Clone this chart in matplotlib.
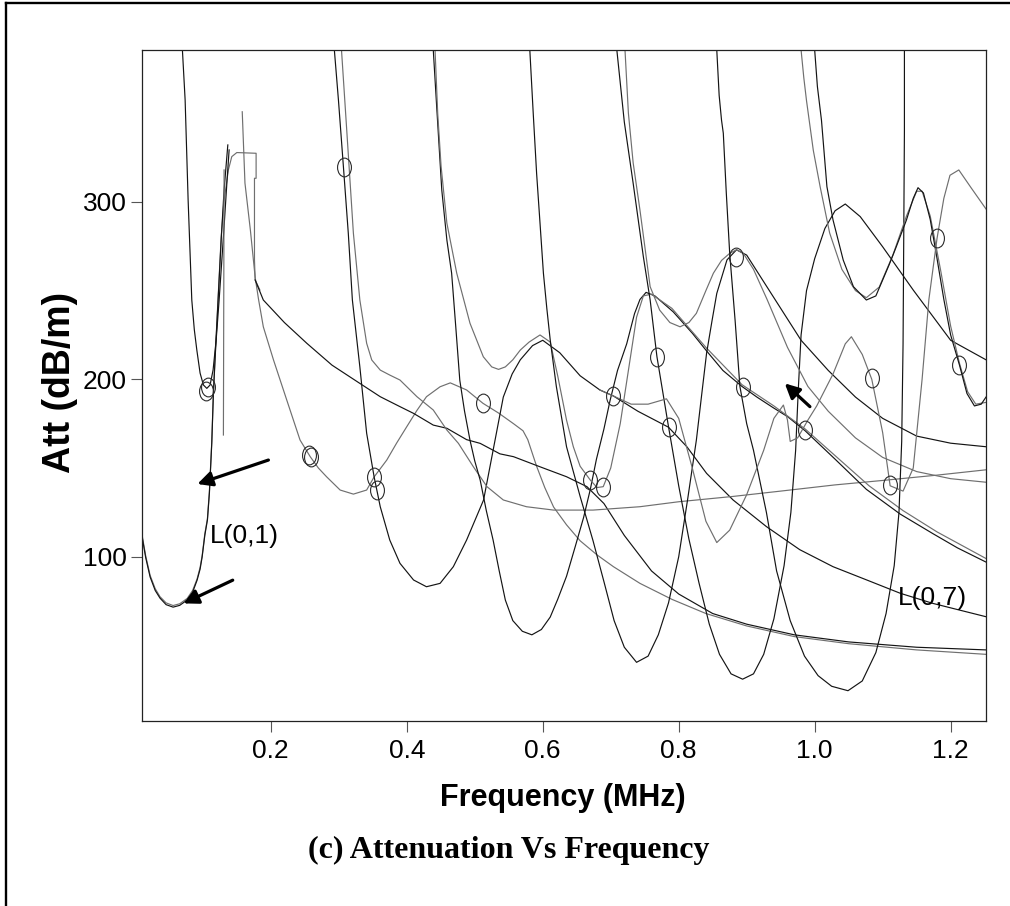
import matplotlib
matplotlib.use("Agg")
import matplotlib.pyplot as plt
from matplotlib.lines import Line2D
from matplotlib.path import Path
from matplotlib.transforms import Affine2D

plt.rcParams['font.family'] = ['Liberation Sans Narrow', 'Liberation Sans', 'DejaVu Sans']

# ---------------- data (frequency MHz, attenuation dB/m) ----------------
l01_k_f = [0.011, 0.016, 0.0225, 0.03, 0.037, 0.046, 0.0563, 0.066, 0.077, 0.085, 0.0916, 0.096, 0.099, 0.103, 0.1068, 0.1097, 0.1132, 0.1156, 0.118, 0.1225, 0.127, 0.1313, 0.1368]
l01_k_a = [110.6, 99.5, 88.6, 81.0, 76.7, 73.0, 71.6, 72.6, 75.6, 80.0, 86.8, 93.0, 99.8, 112.2, 120.7, 135.9, 164.1, 192.2, 210.9, 244.7, 278.5, 306.7, 332.1]

l01_g_f = [0.011, 0.016, 0.0225, 0.03, 0.037, 0.046, 0.0563, 0.066, 0.077, 0.085, 0.0916, 0.096, 0.099, 0.103, 0.1068, 0.1097, 0.1132, 0.1156, 0.118, 0.1225, 0.127, 0.131, 0.1376, 0.1426, 0.150, 0.1784, 0.1784, 0.176, 0.176, 0.177, 0.184]
l01_g_a = [111.5, 100.5, 89.5, 82.0, 77.5, 74.0, 72.5, 73.5, 76.5, 81.0, 87.5, 94.0, 100.5, 113.0, 121.5, 137.0, 165.0, 193.0, 212.0, 246.0, 280.0, 300.0, 318.0, 325.5, 327.8, 327.4, 313.3, 313.3, 267.3, 256.0, 250.3]

c07_f = [0.070, 0.074, 0.0784, 0.0838, 0.0875, 0.0912, 0.096, 0.1009, 0.1059, 0.1107, 0.1151, 0.1196, 0.124, 0.130, 0.1357, 0.1387]
c07_a = [385.6, 357.4, 301.1, 244.7, 228.0, 216.5, 203.5, 196.8, 194.9, 196.8, 205.2, 222.0, 244.7, 278.5, 312.4, 329.3]

vert_f = [0.1313, 0.1303]
vert_a = [318.0, 168.6]

spike_f = [0.158, 0.162, 0.170, 0.177, 0.182, 0.189, 0.204, 0.2235, 0.243, 0.258, 0.270, 0.282, 0.302, 0.3215, 0.341, 0.352, 0.3706, 0.385, 0.40, 0.415, 0.429, 0.449, 0.464, 0.488, 0.512, 0.535, 0.557, 0.571, 0.578, 0.591, 0.603, 0.616, 0.635, 0.655, 0.68, 0.704, 0.743, 0.79, 0.84, 0.90, 0.97, 1.05, 1.15, 1.252]
spike_a = [350.8, 310.6, 284.0, 257.5, 245.0, 229.6, 210.9, 188.3, 165.8, 156.4, 150.0, 145.1, 137.6, 135.3, 137.6, 145.0, 154.5, 164.0, 173.3, 182.5, 190.2, 195.8, 198.0, 194.0, 186.5, 181.0, 175.0, 171.0, 166.0, 151.0, 139.0, 128.0, 118.0, 109.0, 101.0, 94.4, 85.0, 76.0, 68.0, 61.0, 55.0, 51.0, 47.5, 45.0]

plat_f = [0.177, 0.189, 0.22, 0.253, 0.29, 0.331, 0.361, 0.39, 0.41, 0.439, 0.459, 0.488, 0.508, 0.537, 0.557, 0.596, 0.635, 0.665, 0.69, 0.72, 0.76, 0.80, 0.85, 0.90, 0.97, 1.05, 1.15, 1.252]
plat_a = [256.0, 244.7, 232.0, 220.3, 208.0, 197.7, 190.2, 184.6, 180.8, 174.2, 172.4, 166.0, 163.9, 158.0, 156.4, 150.7, 145.1, 139.5, 130.0, 112.0, 92.0, 79.0, 68.0, 62.0, 56.0, 52.0, 49.0, 47.5]

m294_f = [0.2935, 0.2995, 0.3068, 0.314, 0.32, 0.331, 0.341, 0.352, 0.361, 0.375, 0.39, 0.41, 0.429, 0.449, 0.4685, 0.488, 0.513, 0.528, 0.542, 0.555, 0.567, 0.585, 0.60, 0.625, 0.655, 0.684, 0.704, 0.74, 0.785, 0.812, 0.841, 0.88, 0.929, 0.978, 1.027, 1.076, 1.126, 1.174, 1.252]
m294_a = [385.6, 357.4, 319.9, 282.3, 244.7, 207.0, 169.6, 145.0, 128.2, 109.4, 96.3, 86.9, 83.1, 85.0, 94.4, 109.4, 132.0, 162.0, 190.0, 203.0, 211.0, 219.0, 222.0, 215.0, 202.0, 194.0, 190.6, 182.0, 173.0, 162.0, 147.0, 132.0, 117.0, 104.0, 94.4, 87.0, 79.4, 73.7, 66.2]

m304_f = [0.304, 0.312, 0.3215, 0.331, 0.341, 0.3485, 0.361, 0.375, 0.39, 0.415, 0.439, 0.459, 0.476, 0.498, 0.518, 0.542, 0.576, 0.616, 0.674, 0.743, 0.80, 0.88, 0.95, 1.03, 1.10, 1.18, 1.252]
m304_a = [385.6, 338.7, 282.3, 244.7, 220.3, 210.9, 205.2, 202.4, 199.6, 190.2, 182.7, 171.4, 163.9, 150.7, 139.5, 132.0, 128.2, 126.3, 126.3, 128.2, 131.0, 134.0, 137.0, 140.5, 143.0, 146.0, 149.0]

m439_f = [0.439, 0.444, 0.4515, 0.459, 0.466, 0.472, 0.478, 0.485, 0.493, 0.50, 0.508, 0.517, 0.527, 0.536, 0.545, 0.556, 0.57, 0.584, 0.598, 0.611, 0.622, 0.635, 0.648, 0.66, 0.67, 0.679, 0.69, 0.699, 0.71, 0.7235, 0.735, 0.743, 0.752, 0.765, 0.792, 0.82, 0.841, 0.865, 0.893, 0.915, 0.939, 0.96, 0.986, 1.03, 1.076, 1.126, 1.174, 1.21, 1.252]
m439_a = [385.6, 353.7, 306.7, 278.5, 259.8, 230.0, 199.5, 182.0, 165.7, 154.0, 143.2, 126.0, 109.4, 92.0, 75.6, 64.0, 58.0, 56.0, 59.0, 66.0, 76.0, 89.0, 106.0, 122.0, 138.0, 155.0, 172.0, 188.0, 205.0, 220.0, 237.0, 245.0, 249.0, 247.0, 238.0, 226.0, 216.0, 205.0, 196.0, 190.0, 184.0, 179.0, 171.0, 155.0, 138.0, 124.0, 113.0, 105.0, 97.0]

m441_f = [0.4416, 0.4455, 0.4505, 0.459, 0.4735, 0.493, 0.5126, 0.525, 0.535, 0.545, 0.556, 0.567, 0.58, 0.596, 0.611, 0.622, 0.635, 0.645, 0.655, 0.67, 0.68, 0.689, 0.70, 0.714, 0.728, 0.738, 0.748, 0.76, 0.79, 0.84, 0.893, 0.94, 0.986, 1.03, 1.08, 1.13, 1.18, 1.252]
m441_a = [385.6, 350.0, 320.0, 288.0, 259.8, 231.6, 212.7, 207.0, 205.6, 207.0, 211.0, 216.5, 221.0, 225.0, 221.0, 202.0, 177.0, 162.0, 151.0, 143.2, 139.0, 139.5, 150.0, 175.0, 210.0, 235.0, 247.0, 248.0, 240.0, 218.0, 197.0, 185.0, 172.0, 157.0, 140.0, 126.0, 114.0, 99.0]

m581_f = [0.581, 0.586, 0.591, 0.596, 0.601, 0.606, 0.611, 0.62, 0.635, 0.655, 0.674, 0.69, 0.705, 0.72, 0.738, 0.755, 0.77, 0.785, 0.80, 0.813, 0.826, 0.834, 0.841, 0.849, 0.856, 0.871, 0.885, 0.90, 0.92, 0.95, 0.98, 1.02, 1.06, 1.10, 1.15, 1.20, 1.252]
m581_a = [385.6, 350.0, 316.0, 288.0, 259.8, 240.0, 222.2, 196.0, 162.0, 134.0, 109.0, 86.0, 64.0, 49.0, 40.5, 44.0, 56.0, 74.0, 100.0, 132.0, 165.8, 192.0, 214.7, 233.0, 248.4, 267.3, 273.0, 270.0, 258.0, 240.0, 222.0, 205.0, 190.0, 178.0, 168.0, 164.0, 162.0]

m709_f = [0.709, 0.72, 0.733, 0.748, 0.758, 0.768, 0.785, 0.80, 0.815, 0.83, 0.845, 0.86, 0.877, 0.894, 0.91, 0.925, 0.94, 0.955, 0.965, 0.972, 0.976, 0.98, 0.988, 1.0, 1.015, 1.03, 1.045, 1.067, 1.10, 1.145, 1.20, 1.252]
m709_a = [385.6, 345.0, 310.5, 269.1, 244.7, 212.7, 173.3, 140.0, 110.0, 85.0, 62.0, 45.0, 34.0, 31.0, 34.0, 45.0, 65.0, 95.0, 125.0, 160.0, 195.0, 225.0, 250.0, 268.0, 285.0, 295.0, 298.8, 291.7, 274.7, 250.3, 222.0, 211.0]

m721_f = [0.721, 0.726, 0.733, 0.743, 0.758, 0.772, 0.787, 0.802, 0.815, 0.826, 0.84, 0.851, 0.863, 0.875, 0.885, 0.895, 0.91, 0.93, 0.96, 0.99, 1.02, 1.06, 1.10, 1.15, 1.20, 1.252]
m721_a = [385.6, 350.0, 322.0, 295.4, 252.2, 239.0, 232.0, 229.6, 232.0, 237.2, 250.0, 259.8, 267.0, 271.0, 273.0, 271.0, 262.0, 245.0, 218.0, 196.0, 182.0, 167.0, 156.0, 148.0, 144.0, 142.0]

m856_f = [0.856, 0.8595, 0.863, 0.8656, 0.87, 0.875, 0.883, 0.89, 0.90, 0.91, 0.929, 0.944, 0.964, 0.985, 1.005, 1.025, 1.049, 1.07, 1.09, 1.105, 1.117, 1.124, 1.128, 1.13, 1.131, 1.132, 1.132]
m856_a = [385.6, 360.0, 346.0, 338.7, 305.0, 271.0, 233.0, 196.0, 175.0, 160.0, 125.0, 92.0, 64.0, 44.0, 33.0, 27.0, 24.5, 30.0, 46.0, 68.0, 95.0, 125.0, 165.0, 220.0, 280.0, 340.0, 385.6]

m980_f = [0.98, 0.984, 0.988, 0.998, 1.008, 1.022, 1.04, 1.06, 1.076, 1.095, 1.115, 1.135, 1.15, 1.158, 1.17, 1.185, 1.20, 1.213, 1.225, 1.237, 1.252]
m980_a = [385.6, 370.0, 357.0, 329.0, 308.6, 282.5, 262.0, 250.0, 246.0, 252.0, 270.0, 292.0, 306.0, 306.0, 292.0, 262.0, 230.0, 209.0, 193.0, 186.0, 187.0]

m1000_f = [1.0, 1.004, 1.01, 1.018, 1.027, 1.042, 1.057, 1.076, 1.09, 1.10, 1.11, 1.12, 1.135, 1.145, 1.152, 1.16, 1.17, 1.18, 1.19, 1.20, 1.213, 1.224, 1.235, 1.245, 1.252]
m1000_a = [385.6, 365.0, 346.0, 308.6, 289.8, 267.2, 252.2, 244.7, 247.0, 256.0, 265.0, 274.7, 289.8, 302.0, 308.0, 305.0, 290.0, 268.0, 245.0, 225.0, 208.0, 192.0, 185.0, 186.0, 190.0]

right_f = [0.684, 0.704, 0.73, 0.755, 0.782, 0.80, 0.82, 0.84, 0.856, 0.875, 0.90, 0.925, 0.94, 0.954, 0.96, 0.964, 0.975, 0.99, 1.003, 1.027, 1.045, 1.054, 1.07, 1.084, 1.10, 1.111, 1.13, 1.145, 1.158, 1.168, 1.18, 1.19, 1.199, 1.212, 1.23, 1.252]
right_a = [194.0, 190.6, 186.0, 186.0, 189.0, 178.0, 150.0, 120.0, 108.0, 115.0, 135.0, 160.0, 178.0, 185.5, 177.0, 165.0, 167.0, 177.0, 185.0, 203.0, 220.0, 224.0, 214.0, 200.0, 170.0, 140.0, 137.0, 150.0, 200.0, 245.0, 279.5, 302.0, 315.0, 318.0, 308.0, 296.0]

circle_f = [0.105, 0.108, 0.256, 0.259, 0.307, 0.352, 0.356, 0.512, 0.670, 0.689, 0.704, 0.768, 0.785, 0.884, 0.894, 0.986, 1.084, 1.111, 1.180, 1.213]
circle_a = [193.5, 195.5, 157.5, 156.0, 319.9, 145.0, 137.6, 186.5, 143.2, 139.5, 190.6, 212.7, 173.3, 269.1, 195.5, 171.4, 200.6, 140.4, 279.5, 208.0]

x_ticks = [0.2, 0.4, 0.6, 0.8, 1.0, 1.2]
x_tick_labels = ["0.2", "0.4", "0.6", "0.8", "1.0", "1.2"]
y_ticks = [100, 200, 300]
y_tick_labels = ["100", "200", "300"]

# ---------------- figure ----------------
W, H = 1010, 906
fig = plt.figure(figsize=(W / 100, H / 100), dpi=100)
ax = fig.add_axes([142.3 / W, 1 - 720.7 / H, (986 - 142.3) / W, (720.7 - 50) / H])

BLACK = '#141414'
GRAY = '#6f6f6f'
LW = 0.85

curves = [
    (l01_g_f, l01_g_a, GRAY), (l01_k_f, l01_k_a, BLACK), (c07_f, c07_a, BLACK),
    (vert_f, vert_a, GRAY), (spike_f, spike_a, GRAY), (plat_f, plat_a, BLACK),
    (m294_f, m294_a, BLACK), (m304_f, m304_a, GRAY), (m439_f, m439_a, BLACK),
    (m441_f, m441_a, GRAY), (m581_f, m581_a, BLACK), (m709_f, m709_a, BLACK),
    (m721_f, m721_a, GRAY), (m856_f, m856_a, BLACK), (m980_f, m980_a, GRAY),
    (m1000_f, m1000_a, BLACK), (right_f, right_a, GRAY),
]
for fx, ay, col in curves:
    ax.plot(fx, ay, color=col, lw=LW, solid_joinstyle='round')

ell = Path.unit_circle().transformed(Affine2D().scale(0.74, 1.0))
ax.plot(circle_f, circle_a, linestyle='none', marker=ell, markersize=13.5,
        mfc='none', mec='#2a2a2a', mew=0.8)

ax.set_xlim(0.011, 1.252)
ax.set_ylim(7.6, 385.6)
ax.set_xticks(x_ticks)
ax.set_xticklabels(x_tick_labels)
ax.set_yticks(y_ticks)
ax.set_yticklabels(y_tick_labels)
ax.tick_params(direction='out', length=8, width=0.8, color='#555555',
               labelsize=19, pad=3)
ax.tick_params(axis='x', pad=5)
for s in ax.spines.values():
    s.set_linewidth(0.9)
    s.set_color('#222222')

# arrows
arrow_kw = dict(arrowstyle='-|>', color='black', lw=2.3, mutation_scale=22,
                shrinkA=0, shrinkB=0)
ax.annotate('', xy=(0.092, 141.0), xytext=(0.1965, 154.5), arrowprops=arrow_kw)
ax.annotate('', xy=(0.0715, 73.7), xytext=(0.144, 86.8), arrowprops=arrow_kw)
ax.annotate('', xy=(0.956, 197.7), xytext=(0.993, 184.6), arrowprops=arrow_kw)

ax.text(0.1107, 111.8, 'L(0,1)', fontsize=19, ha='left', va='center')
ax.text(1.123, 77.0, 'L(0,7)', fontsize=19, ha='left', va='center')

fig.text(563 / W, 1 - 806 / H, 'Frequency (MHz)', ha='center', va='baseline',
         fontsize=22, fontweight='bold')
fig.text(60 / W, 1 - 382 / H, 'Att (dB/m)', ha='center', va='center',
         rotation=90, fontsize=27, fontweight='bold',
         family=['Liberation Sans', 'DejaVu Sans'])
fig.text(509 / W, 1 - 858 / H, '(c) Attenuation Vs Frequency', ha='center',
         va='baseline', fontsize=23, fontweight='bold',
         family=['Liberation Serif', 'DejaVu Serif'])

# outer frame (top and left edges of the surrounding cell)
fig.add_artist(Line2D([6 / W, 6 / W], [0, 1 - 2.7 / H], color='black', lw=1.7))
fig.add_artist(Line2D([6 / W, 1], [1 - 2.7 / H, 1 - 2.7 / H], color='black', lw=1.7))

fig.savefig('out.png', dpi=100)
